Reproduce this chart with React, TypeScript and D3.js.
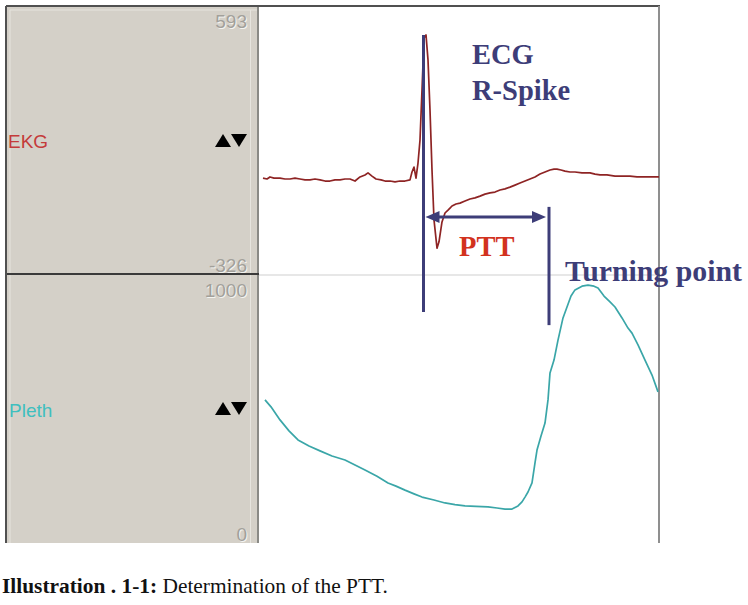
import React from 'react';
import * as d3 from 'd3';

const W = 748;
const H = 605;

// Time axis (ms) and channel values
const ekgTime = [4, 12, 18, 26, 38, 48, 58, 68, 78, 88, 98, 108, 118, 128, 138, 148, 158, 168, 178, 188, 198, 208, 214, 222, 230, 240, 248, 258, 268, 278, 288, 298, 302, 306, 310, 314, 318, 322, 326, 330, 334, 338, 342, 346, 352, 356, 358, 362, 368, 374, 378, 382, 390, 398, 408, 418, 428, 438, 448, 458, 468, 478, 488, 498, 508, 518, 528, 538, 548, 558, 568, 578, 586, 592, 600, 608, 618, 628, 642, 658, 668, 678, 692, 708, 722, 738, 752, 768, 782, 796];
const ekgValue = [4, 1, 8, 4, 4, 1, 1, 4, 1, -2, -2, 1, -2, -6, -6, -2, -2, 1, 1, -6, 8, 15, 22, 11, 1, -2, -6, -6, -9, -6, -6, -2, 25, 42, 4, 56, 135, 307, 486, 497, 411, 238, 32, -140, -237, -215, -192, -147, -116, -106, -99, -92, -85, -82, -75, -68, -64, -58, -51, -47, -44, -37, -33, -27, -20, -13, -6, 1, 8, 18, 25, 32, 35, 35, 32, 28, 25, 25, 22, 22, 18, 15, 15, 11, 11, 11, 8, 8, 8, 8];

const plethTime = [8, 20, 38, 56, 74, 96, 118, 142, 168, 188, 208, 232, 254, 270, 288, 306, 322, 346, 368, 388, 408, 430, 454, 472, 488, 502, 514, 522, 528, 534, 542, 548, 552, 560, 568, 574, 578, 586, 594, 604, 612, 620, 628, 642, 654, 666, 674, 686, 698, 708, 722, 734, 742, 754, 768, 782, 794];
const plethValue = [536, 510, 461, 420, 386, 363, 345, 326, 311, 292, 273, 250, 225, 213, 198, 184, 172, 161, 150, 144, 139, 137, 135, 131, 127, 127, 139, 154, 172, 191, 225, 300, 348, 401, 449, 536, 637, 685, 760, 843, 884, 925, 948, 962, 966, 962, 955, 925, 903, 884, 843, 805, 786, 742, 685, 629, 566];

const channelNames = ['EKG', 'Pleth'];
const channelColors = ['#c43a3a', '#3fbfbf'];
const traceColors = ['#8e2424', '#3aa6a8'];
const ekgRange = [-326, 593];
const plethRange = [0, 1000];

// Annotation values
const rSpikeTime = 325;
const turningTime = 576;
const rSpikeTop = 497; // EKG value
const rSpikeBottom = 865; // Pleth value
const turningTop = -95; // EKG value
const turningBottom = 816; // Pleth value
const pttArrowLevel = -130; // EKG value

const navy = '#3d3d78';

export default function App() {
  const x = d3.scaleLinear().domain([0, 796]).range([261, 659]);
  const yEkg = d3.scaleLinear().domain(ekgRange).range([274, 7]);
  const yPleth = d3.scaleLinear().domain(plethRange).range([543, 276]);

  const ekgLine = d3
    .line<number>()
    .x((_, i) => x(ekgTime[i]))
    .y((d) => yEkg(d));
  const plethLine = d3
    .line<number>()
    .x((_, i) => x(plethTime[i]))
    .y((d) => yPleth(d));

  const xr = x(rSpikeTime);
  const xt = x(turningTime);
  const ya = yEkg(pttArrowLevel);

  const grayLabel = (txt: string, xx: number, yy: number, key: string) => (
    <g key={key}>
      <text x={xx + 1} y={yy + 1} textAnchor="end" fontSize={19} fill="#f4f4f0" fontFamily="Liberation Sans, Arial, sans-serif">
        {txt}
      </text>
      <text x={xx} y={yy} textAnchor="end" fontSize={19} fill="#a2a09a" fontFamily="Liberation Sans, Arial, sans-serif">
        {txt}
      </text>
    </g>
  );

  const arrows = (cy: number, key: string) => (
    <g key={key} fill="#000">
      <path d={`M215,${cy + 6}L223,${cy - 7}L231,${cy + 6}Z`} />
      <path d={`M231,${cy - 7}L247,${cy - 7}L239,${cy + 6}Z`} />
    </g>
  );

  return (
    <svg width={W} height={H} style={{ position: 'absolute', left: 0, top: 0, background: '#fff' }}>
      <rect x={0} y={0} width={W} height={H} fill="#fff" />
      {/* left control panel */}
      <rect x={6} y={6} width={253} height={537} fill="#d4d0c8" />
      <line x1={10} y1={10} x2={10} y2={543} stroke="#e6e4de" strokeWidth={1} />
      <line x1={10} y1={10} x2={258} y2={10} stroke="#e6e4de" strokeWidth={1} />
      <line x1={250.5} y1={10} x2={250.5} y2={543} stroke="#e6e4de" strokeWidth={1} />
      <line x1={258} y1={6} x2={258} y2={543} stroke="#8a8a86" strokeWidth={2} />
      {/* separators */}
      <line x1={6} y1={274} x2={259} y2={274} stroke="#3a3a3a" strokeWidth={2} />
      <line x1={259} y1={275} x2={659} y2={275} stroke="#cfcfcf" strokeWidth={1} />
      {/* frame */}
      <line x1={6} y1={6} x2={660} y2={6} stroke="#505050" strokeWidth={2} />
      <line x1={6} y1={6} x2={6} y2={543} stroke="#505050" strokeWidth={2} />
      <line x1={659} y1={6} x2={659} y2={543} stroke="#8f8f8f" strokeWidth={2} />

      {/* channel scale labels */}
      {grayLabel(String(ekgRange[1]), 247, 28, 'e1')}
      {grayLabel(String(ekgRange[0]), 247, 272, 'e0')}
      {grayLabel(String(plethRange[1]), 247, 297, 'p1')}
      {grayLabel(String(plethRange[0]), 247, 541, 'p0')}

      <text x={8} y={148} fontSize={19} fill={channelColors[0]} fontFamily="Liberation Sans, Arial, sans-serif">
        {channelNames[0]}
      </text>
      <text x={9} y={417} fontSize={19} fill={channelColors[1]} fontFamily="Liberation Sans, Arial, sans-serif">
        {channelNames[1]}
      </text>
      {arrows(141, 'a1')}
      {arrows(409, 'a2')}

      {/* traces */}
      <path d={ekgLine(ekgValue) || ''} fill="none" stroke={traceColors[0]} strokeWidth={1.7} strokeLinejoin="round" />
      <path d={plethLine(plethValue) || ''} fill="none" stroke={traceColors[1]} strokeWidth={1.7} strokeLinejoin="round" />

      {/* annotations */}
      <line x1={xr} y1={yEkg(rSpikeTop)} x2={xr} y2={yPleth(rSpikeBottom)} stroke={navy} strokeWidth={3} />
      <line x1={xt} y1={yEkg(turningTop)} x2={xt} y2={yPleth(turningBottom)} stroke={navy} strokeWidth={3} />
      <line x1={xr + 10} y1={ya} x2={xt - 10} y2={ya} stroke={navy} strokeWidth={3} />
      <path d={`M${xr + 2},${ya}L${xr + 16},${ya - 6}L${xr + 16},${ya + 6}Z`} fill={navy} />
      <path d={`M${xt - 3},${ya}L${xt - 17},${ya - 6}L${xt - 17},${ya + 6}Z`} fill={navy} />

      <g fontFamily="Liberation Serif, Times New Roman, serif" fontWeight="bold" fontSize={28.5}>
        <text x={472} y={64} fill={navy}>ECG</text>
        <text x={472} y={100} fill={navy}>R-Spike</text>
        <text x={459} y={256} fill="#d2321e">PTT</text>
        <text x={565} y={281} fill={navy} fontSize={29.8}>Turning point</text>
      </g>

      {/* caption */}
      <text x={2} y={593} fontSize={21.4} fill="#111" fontFamily="Liberation Serif, Times New Roman, serif">
        <tspan fontWeight="bold">Illustration . 1-1:</tspan>
        <tspan> Determination of the PTT.</tspan>
      </text>
    </svg>
  );
}
